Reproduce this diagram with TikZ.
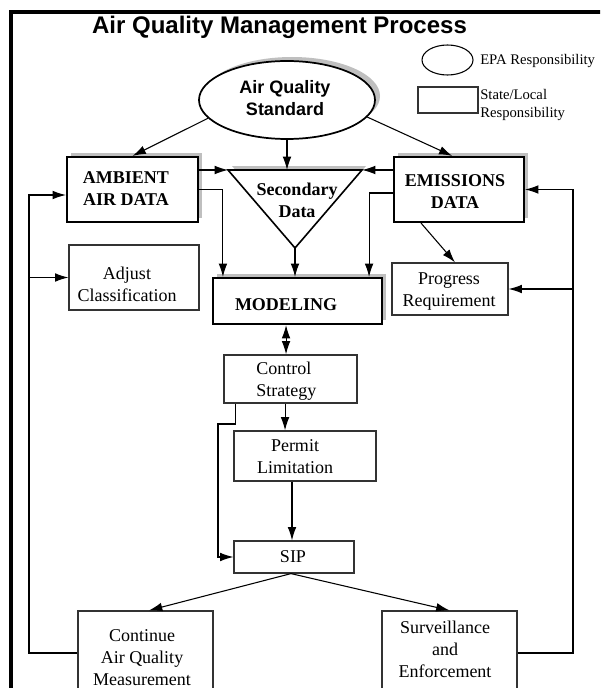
\documentclass[tikz,border=0pt]{standalone}
\usepackage{fontspec}
\setmainfont{Liberation Serif}
\newfontfamily\arialfont{Liberation Sans}
\usetikzlibrary{arrows.meta,shadows,shapes.geometric}
\begin{document}
\begin{tikzpicture}[x=0.75pt,y=-0.75pt,
  arr/.style={draw=black, line width=0.8pt, -{Latex[length=10pt,width=6.5pt]}},
  arrtwo/.style={draw=black, line width=0.8pt, {Latex[length=10pt,width=6.5pt]}-{Latex[length=10pt,width=6.5pt]}},
  plainline/.style={draw=black, line width=0.8pt},
  shadowfill/.style={fill=black!25},
  thickbox/.style={draw=black, line width=1.6pt, fill=white, rectangle, inner sep=0pt,
     general shadow={shadow xshift=3pt, shadow yshift=3pt, fill=black!25}},
  thinbox/.style={draw=black!80, line width=0.9pt, fill=white, rectangle, inner sep=0pt},
  boldtxt/.style={font=\fontsize{13.5}{16.5}\selectfont\bfseries, align=center, inner sep=0pt},
  normtxt/.style={font=\fontsize{13.5}{16.5}\selectfont, align=center, inner sep=0pt},
  legtxt/.style={font=\fontsize{11}{13.5}\selectfont, anchor=west, inner sep=0pt, align=left},
]
\useasboundingbox (0,0) rectangle (600,688);
\clip (0,0) rectangle (600,688);

% frame
\draw[line width=3pt, line join=miter] (11,700) -- (11,12) -- (610,12);

% title
\node[font=\arialfont\bfseries\fontsize{18}{20}\selectfont, anchor=base, inner sep=0pt] (title) at (279.5,34) {Air Quality Management Process};

% legend
\node[draw=black, line width=0.8pt, ellipse, minimum width=38.25pt, minimum height=22.5pt, inner sep=0pt] (legE) at (447.5,60) {};
\node[legtxt] (legEt) at (480,61) {EPA Responsibility};
\node[thinbox, minimum width=45pt, minimum height=19.5pt] (legR) at (448,100) {};
\node[legtxt] (legRt) at (480,105) {State/Local\\Responsibility};

% main ellipse
\node[draw=black, line width=1.3pt, ellipse, fill=white, minimum width=132pt, minimum height=58.5pt, inner sep=0pt,
  general shadow={shadow xshift=3.75pt, shadow yshift=3pt, fill=black!25}] (aqs) at (287,100) {};
\node[font=\arialfont\bfseries\fontsize{13.5}{16.5}\selectfont, align=center, inner sep=0pt] (aqst) at (285,98) {Air Quality\\Standard};

% boxes
\node[thickbox, minimum width=98.25pt, minimum height=48.75pt] (amb) at (132.5,189.5) {};
\node[boldtxt] (ambt) at (126,189) {AMBIENT\\AIR DATA};
\node[thickbox, minimum width=97.5pt, minimum height=48.75pt] (emi) at (459,189.5) {};
\node[boldtxt] (emit) at (455,192) {EMISSIONS\\DATA};
\node[thinbox, minimum width=97.5pt, minimum height=48.75pt] (adj) at (134,277.5) {};
\node[normtxt] (adjt) at (127,284) {Adjust\\Classification};
\node[thickbox, minimum width=126.75pt, minimum height=34.5pt] (mod) at (297.5,301) {};
\node[boldtxt] (modt) at (286,305) {MODELING};
\node[thinbox, minimum width=87pt, minimum height=39pt] (prog) at (450,289) {};
\node[normtxt] (progt) at (449,292) {Progress\\Requirement};
\node[thinbox, minimum width=99.75pt, minimum height=36pt] (ctrl) at (290.5,379) {};
\node[normtxt, align=left, anchor=west] (ctrlt) at (256,381) {Control\\Strategy};
\node[thinbox, minimum width=106.5pt, minimum height=37.5pt] (perm) at (305,456) {};
\node[normtxt] (permt) at (295,456.5) {Permit\\Limitation};
\node[thinbox, minimum width=90pt, minimum height=24pt] (sip) at (294,557) {};
\node[normtxt] (sipt) at (293,557) {SIP};
\node[thinbox, minimum width=101.25pt, minimum height=70.5pt] (cont) at (145.5,658) {};
\node[normtxt] (contt) at (142,658) {Continue\\Air Quality\\Measurement};
\node[thinbox, minimum width=101.25pt, minimum height=70.5pt] (surv) at (449.5,658) {};
\node[normtxt] (survt) at (445,649) {Surveillance\\and\\Enforcement};

% triangle
\coordinate (tl) at (228,170);
\coordinate (tr) at (362,170);
\coordinate (ap) at (295,248);
\fill[shadowfill] ([shift={(4,-4)}]tl) -- ([shift={(4,-4)}]tr) -- ([shift={(4,-4)}]ap) -- cycle;
\draw[line width=1.2pt, fill=white, line join=miter] (tl) -- (tr) -- (ap) -- cycle;
\node[boldtxt] (sdt) at (297,200) {Secondary\\Data};

% connectors
\coordinate (rb) at (573,653);
\coordinate (lb) at (29,653);
\coordinate (la) at (29,195);
\coordinate (kink) at (218,424);

\draw[arr] (aqs.193) -- (amb.north);
\draw[arr] (aqs.348) -- ([xshift=-5pt]emi.north);
\draw[arr] (aqs.south) -- (aqs.south |- tl);
\draw[arr] (amb.east |- tl) -- (tl);
\draw[arr] (emi.west |- tr) -- (tr);
\draw[arr] (amb.east) -| ([xshift=8.25pt]mod.north west);
\draw[arr] (ap) -- (ap |- mod.north);
\draw[arr] ([yshift=-2.6pt]emi.west) -| ([xshift=-10.5pt]mod.north east);
\draw[arr] ([xshift=-28.5pt]emi.south) -- ([xshift=3.75pt]prog.north);
\draw[arr] (surv.east |- rb) -- (rb) |- (emi.east);
\draw[arr] (rb |- prog.east) -- (prog.east);
\draw[arr] (cont.west |- lb) -- (lb) |- (amb.west |- la);
\draw[arr] (lb |- adj.west) -- (adj.west);
\draw[arrtwo] ([xshift=-8.6pt]mod.south) -- ([xshift=-8.6pt]mod.south |- ctrl.north);
\draw[arr] ([xshift=-4.1pt]ctrl.south) -- ([xshift=-4.1pt]ctrl.south |- perm.north);
\draw[arr] ([xshift=9pt]ctrl.south west) |- (kink) |- (sip.west);
\draw[arr] ([xshift=-9.75pt]perm.south) -- ([xshift=-9.75pt]perm.south |- sip.north);
\draw[arr] ([xshift=-2.25pt]sip.south) -- ([xshift=2.6pt]cont.north);
\draw[arr] ([xshift=-2.25pt]sip.south) -- (surv.north);
\end{tikzpicture}
\end{document}
